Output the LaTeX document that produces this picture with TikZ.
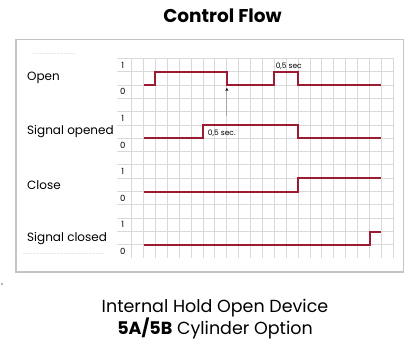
\documentclass[tikz,border=0pt]{standalone}
\usepackage{fontspec}
\setmainfont{Poppins}
\usetikzlibrary{arrows.meta}

\definecolor{sigred}{HTML}{9B1B30}
\definecolor{gridgray}{HTML}{D9D9D9}
\definecolor{framegray}{HTML}{C4C4C4}

\tikzset{
  signal/.style={draw=sigred,line width=2pt,line join=miter},
  gridline/.style={draw=gridgray,line width=0.9pt},
  levellabel/.style={font=\fontsize{8.5}{9}\selectfont,inner sep=0pt},
  rowlabel/.style={font=\fontsize{12}{14}\selectfont,anchor=west,inner sep=0pt},
  timelabel/.style={font=\fontsize{7.5}{9}\selectfont,anchor=west,inner sep=0pt}
}

\begin{document}
\begin{tikzpicture}[x=1pt,y=-1pt]
\useasboundingbox (0,0) rectangle (408,340);

% Title
\node[font=\bfseries\fontsize{18.5}{22}\selectfont] (title) at (222.5,16) {Control Flow};

% Frame
\draw[framegray,line width=1.6pt] (16,39.5) rectangle (403.3,271.7);

% Faint dotted guides
\draw[gridgray!60,densely dotted,line width=0.4pt] (33,52.7) -- (75,52.7);
\draw[gridgray!60,densely dotted,line width=0.4pt] (23,253) -- (103,253);
\draw[gray!80] (2,284) circle (1.2pt);

% Row labels
\node[rowlabel] (open) at (27,78.3) {Open};
\node[rowlabel] (sigopen) at (27,131.7) {Signal opened};
\node[rowlabel] (close) at (27,185) {Close};
\node[rowlabel] (sigclose) at (27,238.3) {Signal closed};

\begin{scope}[shift={(131.7,58.3)},x=11.89pt,y=-13.33pt]
  % Grid
  \foreach \k in {0,...,14}
    \draw[gridline] (-1.23,\k) -- (22,\k);
  \foreach \c in {0,...,22}
    \draw[gridline] (\c,0) -- (\c,15);

  % Level labels
  \foreach \j in {0,...,3} {
    \node[levellabel] at (-0.75,0.5+4*\j) {1};
    \node[levellabel] at (-0.75,2.5+4*\j) {0};
  }

  % Timing traces
  \draw[signal] (1,2) -- (2,2) -- (2,1) -- (8,1) -- (8,2) -- (12,2) -- (12,1) -- (14,1) -- (14,2) -- (21,2);
  \draw[signal] (1,6) -- (6,6) -- (6,5) -- (14,5) -- (14,6) -- (21,6);
  \draw[signal] (1,10) -- (14,10) -- (14,9) -- (21,9);
  \draw[signal] (1,14) -- (20,14) -- (20,13) -- (21,13);

  % Delay marker
  \coordinate (tail) at (8,4.35);
  \coordinate (tip) at (8,2.2);
  \draw[gray!70,line width=0.8pt,-{Stealth[black,length=3.5pt,width=3pt]}] (tail) -- (tip);

  \node[timelabel] (pulse) at (12.1,0.6) {0,5 sec};
  \node[timelabel] (hold) at (6.4,5.63) {0,5 sec.};
\end{scope}

% Caption
\node[font=\fontsize{17.5}{21}\selectfont,align=center,anchor=south,inner sep=0pt] (caption) at (215,339.5)
  {Internal Hold Open Device\\\textbf{5A/5B} Cylinder Option};
\end{tikzpicture}
\end{document}
